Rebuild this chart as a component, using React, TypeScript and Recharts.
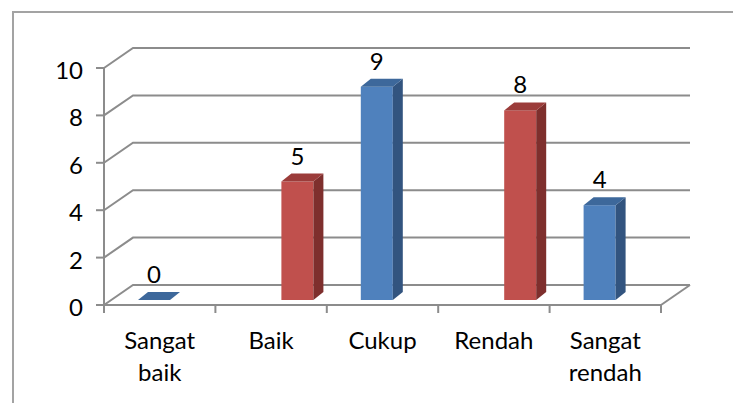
import React from 'react';
import {
  Bar,
  BarChart,
  CartesianGrid,
  LabelList,
  XAxis,
  YAxis,
} from 'recharts';

const CATEGORIES = ['Sangat baik', 'Baik', 'Cukup', 'Rendah', 'Sangat rendah'];
const BLUE_VALUES: (number | null)[] = [0, null, 9, null, 4];
const RED_VALUES: (number | null)[] = [null, 5, null, 8, null];
const Y_TICKS = [0, 2, 4, 6, 8, 10];

const data = CATEGORIES.map((name, i) => ({
  name,
  biru: BLUE_VALUES[i],
  merah: RED_VALUES[i],
}));

const W = 733;
const H = 403;
const MARGIN = { top: 68, right: 72, bottom: 38, left: 0 };
const Y_AXIS_W = 104;
const X_AXIS_H = 60;
const PLOT_LEFT = MARGIN.left + Y_AXIS_W;
const PLOT_RIGHT = W - MARGIN.right;
const PLOT_BOTTOM = H - MARGIN.bottom - X_AXIS_H;
const BAND = (PLOT_RIGHT - PLOT_LEFT) / CATEGORIES.length;

// wall depth
const WALL_DX = 29;
const WALL_DY = 20;
// bar depth + placement inside the floor
const BAR_DX = 10;
const BAR_DY = 8;
const SHIFT_X = 10;
const SHIFT_Y = -5;

const GRID = '#8c8c8c';
const FONT = 'Lato, "Open Sans", sans-serif';
const FONT_SIZE = 24;

type Faces = { front: string; top: string; side: string };
const BLUE: Faces = { front: '#4F81BD', top: '#3D689B', side: '#32547F' };
const RED: Faces = { front: '#C0504D', top: '#9B3C3A', side: '#7E2F2D' };

function makeShape(key: 'biru' | 'merah', c: Faces) {
  return (props: any) => {
    const { x, y, width, height, payload } = props;
    if (payload == null || payload[key] == null) return <g />;
    const bx = x + SHIFT_X;
    const by = y + SHIFT_Y;
    const h = Math.max(0, height);
    return (
      <g>
        {h > 0 && <rect x={bx} y={by} width={width} height={h} fill={c.front} />}
        {h > 0 && (
          <polygon
            points={`${bx + width},${by} ${bx + width + BAR_DX},${by - BAR_DY} ${bx + width + BAR_DX},${by + h - BAR_DY} ${bx + width},${by + h}`}
            fill={c.side}
          />
        )}
        <polygon
          points={`${bx},${by} ${bx + BAR_DX},${by - BAR_DY} ${bx + width + BAR_DX},${by - BAR_DY} ${bx + width},${by}`}
          fill={c.top}
        />
      </g>
    );
  };
}

function valueLabel(props: any) {
  const { x, y, width, value } = props;
  if (value == null) return null;
  return (
    <text
      x={x + width / 2 + SHIFT_X}
      y={y + SHIFT_Y - 17}
      textAnchor="middle"
      fontFamily={FONT}
      fontSize={FONT_SIZE}
      fill="#000"
    >
      {value}
    </text>
  );
}

// grid line that runs along the side wall, then along the back wall
function wallLine(props: any) {
  const { x1, y1, x2 } = props;
  const bx = x1 + WALL_DX;
  const by = y1 - WALL_DY;
  const d = `M${x1},${y1} L${bx},${by} L${x2 + WALL_DX},${by}`;
  const floor = Math.abs(y1 - PLOT_BOTTOM) < 1;
  return (
    <g key={`g-${y1}`}>
      <path d={d} stroke={GRID} strokeWidth={2} fill="none" />
      {floor && (
        <path
          d={`M${x2},${y1} L${x2 + WALL_DX},${by}`}
          stroke={GRID}
          strokeWidth={2}
          fill="none"
        />
      )}
    </g>
  );
}

function CategoryTick(props: any) {
  const { x, payload, index } = props;
  const words = String(payload.value).split(' ');
  const left = x - BAND / 2;
  return (
    <g>
      <line x1={left} y1={PLOT_BOTTOM} x2={left} y2={PLOT_BOTTOM + 8} stroke={GRID} strokeWidth={2} />
      {index === CATEGORIES.length - 1 && (
        <line
          x1={x + BAND / 2}
          y1={PLOT_BOTTOM}
          x2={x + BAND / 2}
          y2={PLOT_BOTTOM + 8}
          stroke={GRID}
          strokeWidth={2}
        />
      )}
      <text textAnchor="middle" fontFamily={FONT} fontSize={FONT_SIZE} fill="#000">
        {words.map((w, i) => (
          <tspan key={i} x={x} y={PLOT_BOTTOM + 44 + i * 32}>
            {w}
          </tspan>
        ))}
      </text>
    </g>
  );
}

function ValueTick(props: any) {
  const { y, payload } = props;
  return (
    <text
      x={PLOT_LEFT - 21}
      y={y + 11}
      textAnchor="end"
      fontFamily={FONT}
      fontSize={FONT_SIZE}
      fill="#000"
    >
      {payload.value}
    </text>
  );
}

export default function App() {
  return (
    <div
      style={{
        position: 'fixed',
        left: 0,
        top: 0,
        width: W,
        height: H,
        overflow: 'hidden',
        background: '#fff',
      }}
    >
      <div
        style={{
          position: 'absolute',
          left: 12,
          top: 11,
          width: 800,
          height: 500,
          border: '2px solid #a3a3a3',
        }}
      />
      <div style={{ position: 'absolute', left: 0, top: 0 }}>
        <BarChart
          width={W}
          height={H}
          data={data}
          margin={MARGIN}
          barGap={0}
          barSize={32}
        >
          <CartesianGrid vertical={false} horizontal={wallLine} />
          <XAxis
            dataKey="name"
            height={X_AXIS_H}
            axisLine={{ stroke: GRID, strokeWidth: 2 }}
            tickLine={false}
            tick={<CategoryTick />}
            interval={0}
          />
          <YAxis
            width={Y_AXIS_W}
            domain={[0, 10]}
            ticks={Y_TICKS}
            axisLine={{ stroke: GRID, strokeWidth: 2 }}
            tickLine={{ stroke: GRID, strokeWidth: 2 }}
            tickSize={8}
            tick={<ValueTick />}
          />
          <Bar dataKey="biru" shape={makeShape('biru', BLUE)} isAnimationActive={false}>
            <LabelList dataKey="biru" content={valueLabel} />
          </Bar>
          <Bar dataKey="merah" shape={makeShape('merah', RED)} isAnimationActive={false}>
            <LabelList dataKey="merah" content={valueLabel} />
          </Bar>
        </BarChart>
      </div>
    </div>
  );
}
